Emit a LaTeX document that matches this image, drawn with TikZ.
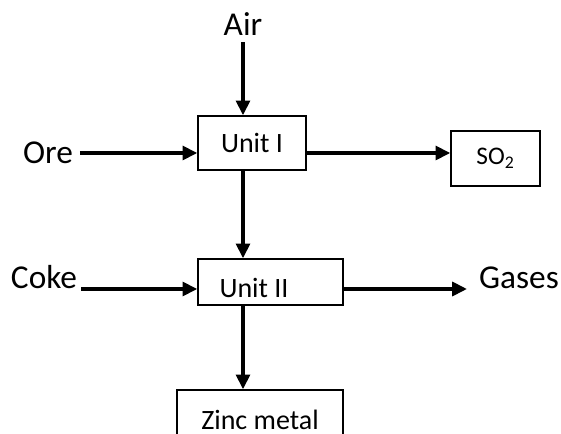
\documentclass[tikz,border=0pt]{standalone}
\usepackage{fontspec}
\setmainfont{Carlito}
\usetikzlibrary{arrows.meta}

\begin{document}
\begin{tikzpicture}[x=0.75pt, y=-0.75pt,
    feed/.style={font=\fontsize{25}{30}\selectfont, inner sep=5pt},
    unit/.style={draw, line width=1.2pt, font=\fontsize{21}{25}\selectfont, inner sep=0pt},
    unittext/.style={font=\fontsize{21}{25}\selectfont, inner sep=0pt},
    flow/.style={line width=2.4pt, -{Triangle[length=11pt, width=10.5pt]}}]
%% page size, the zinc box runs off the bottom edge
    \useasboundingbox (0,0) rectangle (561,434);
    \clip (0,0) rectangle (561,434);
%% the process units
    \node [unit, minimum width=81pt, minimum height=40.5pt] (unitI) at (252,143) {Unit I};
    \node [unit, minimum width=108.75pt, minimum height=34.5pt] (unitII) at (270.5,282) {};
    \node [unittext] (unitIIlabel) at (254,288) {Unit II};
    \node [unit, minimum width=66.75pt, minimum height=41.25pt, font=\fontsize{19}{23}\selectfont] (so2) at (495.5,158.5) {SO\textsubscript{2}};
    \node [unit, minimum width=124.5pt, minimum height=45pt] (zinc) at (260,420) {Zinc metal};
%% inputs and outputs
    \node [feed] (air) at (243,24) {Air};
    \node [feed] (ore) at (48,153) {Ore};
    \node [feed, anchor=base, inner xsep=3pt] (coke) at (44,289) {Coke};
    \node [feed, anchor=base] (gases) at (519,289) {Gases};
%% arrows
    \draw [flow] (air) -- (air |- unitI.north);
    \draw [flow] (ore) -- (ore -| unitI.west);
    \draw [flow] (unitI.east |- ore) -- (so2.west |- ore);
    \draw [flow] (unitI.south -| air) -- (unitII.north -| air);
    \draw [flow] (coke.base east) -- (coke.base east -| unitII.west);
    \draw [flow, shorten >=4pt] (unitII.east |- gases.base) -- (gases.base west);
    \draw [flow] (unitII.south -| air) -- (zinc.north -| air);
\end{tikzpicture}
\end{document}
